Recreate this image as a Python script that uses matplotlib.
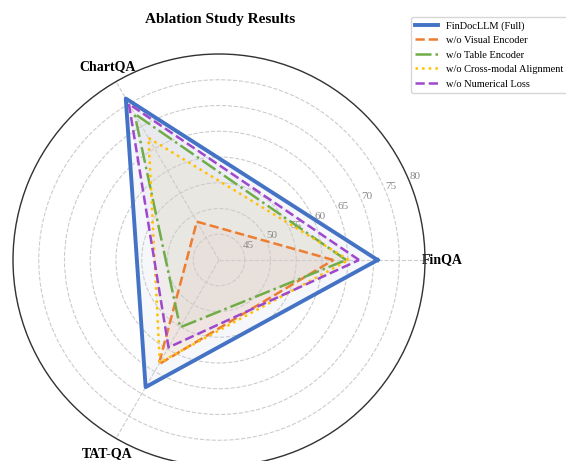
import numpy as np
import matplotlib
matplotlib.use("Agg")
import matplotlib.pyplot as plt

plt.rcParams['font.family'] = ['Liberation Serif', 'DejaVu Serif']

categories = ["FinQA", "ChartQA", "TAT-QA"]
series_names = ["FinDocLLM (Full)", "w/o Visual Encoder", "w/o Table Encoder",
                "w/o Cross-modal Alignment", "w/o Numerical Loss"]
full = [70.8, 76.2, 68.5]
wo_visual = [62.2, 48.6, 63.4]
wo_table = [64.7, 72.8, 55.1]
wo_align = [65.2, 67.4, 63.0]
wo_numloss = [67.2, 75.0, 59.6]
radial_ticks = [45, 50, 55, 60, 65, 70, 75, 80]

series = [full, wo_visual, wo_table, wo_align, wo_numloss]
colors = ['#4472C4', '#ED7D31', '#70AD47', '#FFC000', '#9E48CC']
styles = ['-', '--', '-.', ':', '--']
widths = [2.8, 1.8, 1.8, 1.8, 1.8]

fig = plt.figure(figsize=(5.66, 4.61), dpi=100)
ax = fig.add_axes([13/566, -5/461, 412/566, 412/461], polar=True)

angles = np.deg2rad([0, 120, 240])
closed = np.concatenate([angles, angles[:1]])

for name, vals, c, ls, lw in zip(series_names, series, colors, styles, widths):
    v = np.concatenate([vals, vals[:1]])
    ax.plot(closed, v, color=c, linestyle=ls, linewidth=lw, label=name)
    ax.fill(closed, v, color=c, alpha=0.05)

ax.set_ylim(40, 80)
ax.set_yticks(radial_ticks)
ax.set_yticklabels([str(t) for t in radial_ticks], color='#888888', fontsize=8)
ax.set_rlabel_position(22.5)
ax.set_xticks(angles)
ax.set_xticklabels(categories, fontsize=10, fontweight='bold')
ax.tick_params(axis='x', pad=2)
ax.grid(True, linestyle='--', color='#cccccc', linewidth=0.8)
ax.spines['polar'].set_color('#333333')
ax.spines['polar'].set_linewidth(1.0)

fig.text(0.389, 0.957, "Ablation Study Results", ha='center', va='center',
         fontsize=11, fontweight='bold')

leg = fig.legend(loc='upper right', bbox_to_anchor=(1.012, 0.975), fontsize=7.5,
                 frameon=True, fancybox=True, handlelength=2.2)
leg.get_frame().set_edgecolor('#cccccc')

fig.savefig("out.png", dpi=100)
